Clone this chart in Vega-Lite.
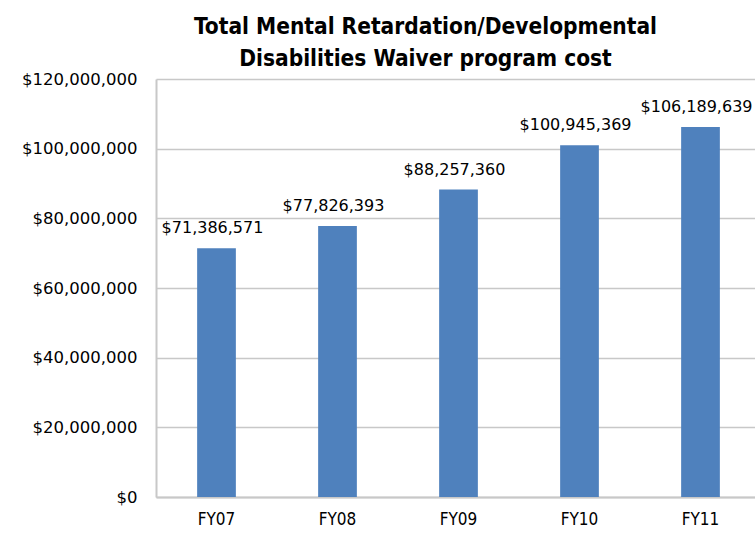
{
  "$schema": "https://vega.github.io/schema/vega-lite/v6.json",
  "autosize": "none",
  "width": 605,
  "height": 418,
  "padding": {"left": 156, "top": 79, "right": 0, "bottom": 53},
  "background": "white",
  "title": {
    "text": ["Total  Mental Retardation/Developmental", "Disabilities Waiver program cost"],
    "font": "DejaVu Sans Condensed",
    "fontSize": 22.5,
    "fontWeight": "bold",
    "color": "#000000",
    "anchor": "middle",
    "dx": -33,
    "offset": 1,
    "lineHeight": 32
  },
  "data": {
    "values": [
      {"year": "FY07", "cost": 71386571},
      {"year": "FY08", "cost": 77826393},
      {"year": "FY09", "cost": 88257360},
      {"year": "FY10", "cost": 100945369},
      {"year": "FY11", "cost": 106189639}
    ]
  },
  "encoding": {
    "x": {
      "field": "year",
      "type": "nominal",
      "sort": null,
      "scale": {"paddingInner": 0.68, "paddingOuter": 0.34},
      "axis": {
        "title": null,
        "labelAngle": 0,
        "labelFont": "DejaVu Sans Condensed",
        "labelFontSize": 17,
        "labelColor": "#000000",
        "labelPadding": 14,
        "ticks": false,
        "domainColor": "#c8c8c8",
        "domainWidth": 2
      }
    },
    "y": {
      "field": "cost",
      "type": "quantitative",
      "scale": {"domain": [0, 120000000], "nice": false},
      "axis": {
        "title": null,
        "values": [0, 20000000, 40000000, 60000000, 80000000, 100000000, 120000000],
        "format": "$,.0f",
        "labelFont": "DejaVu Sans",
        "labelFontSize": 16.5,
        "labelColor": "#000000",
        "labelPadding": 19,
        "ticks": false,
        "domainColor": "#c8c8c8",
        "domainWidth": 2,
        "gridColor": "#c8c8c8",
        "gridWidth": 1.5
      }
    }
  },
  "layer": [
    {"mark": {"type": "bar", "color": "#4F81BD"}},
    {
      "mark": {"type": "text", "dy": -20, "dx": -4, "font": "DejaVu Sans", "fontSize": 16, "color": "#000000", "baseline": "middle"},
      "encoding": {"text": {"field": "cost", "type": "quantitative", "format": "$,.0f"}}
    }
  ],
  "config": {"view": {"stroke": null}}
}
